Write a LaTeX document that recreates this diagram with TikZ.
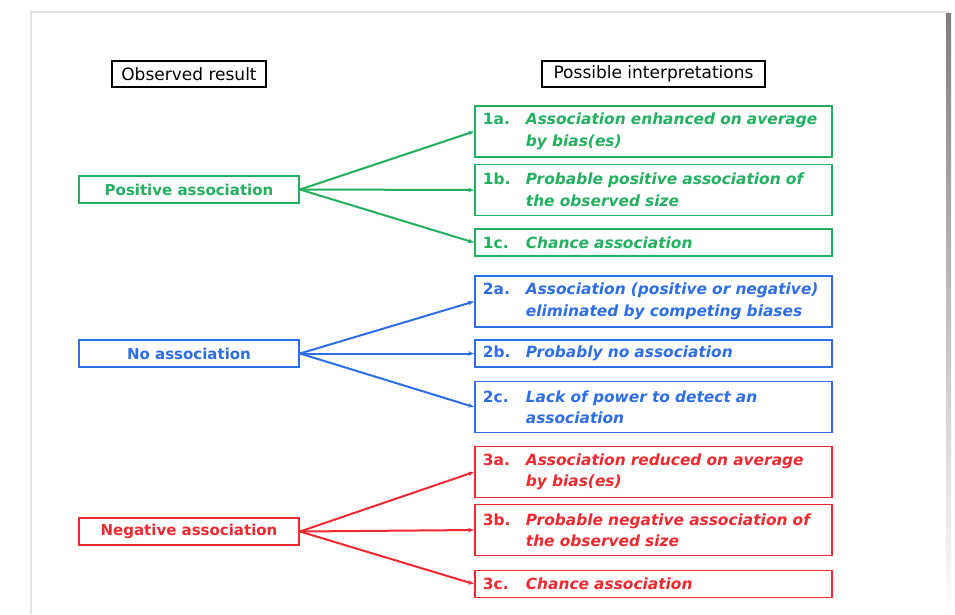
\documentclass[tikz,border=0pt]{standalone}
\usepackage{fontspec}
\setmainfont{DejaVu Sans}
\usepackage{xcolor}
\usetikzlibrary{arrows.meta}
\definecolor{assocgreen}{HTML}{22B060}
\definecolor{assocblue}{HTML}{2D6EE6}
\definecolor{assocred}{HTML}{EE2A30}
\definecolor{frame}{HTML}{E4E4E4}
\definecolor{shade}{HTML}{B4B4B4}
\newcommand{\twoline}[3]{\makebox[43pt][l]{#1}{\itshape #2}\\\hspace*{43pt}{\itshape #3}}
\newcommand{\oneline}[2]{\makebox[43pt][l]{#1}{\itshape #2}}
\tikzset{
  head/.style={draw=black,line width=1.6pt,inner sep=3pt,minimum height=26pt,font=\fontsize{17}{20}\selectfont,text=black},
  result/.style={draw=#1,line width=1.8pt,text=#1,minimum width=220pt,minimum height=27pt,inner sep=3pt,font=\fontsize{15}{18}\selectfont\bfseries},
  interp/.style={draw=#1,line width=1.8pt,text=#1,anchor=west,text width=341pt,inner xsep=8pt,inner ysep=3pt,align=left,minimum height=27pt,font=\fontsize{15.4}{21.5}\selectfont\bfseries},
  tall/.style={minimum height=51pt},
  arrow/.style={-{Stealth[length=6pt,width=4.5pt]},line width=2pt,color=#1},
}
\begin{document}
\begin{tikzpicture}[x=1pt,y=-1pt]
  \useasboundingbox (0,0) rectangle (955,614);
  % page
  \fill[frame] (30,11) rectangle (949,614);
  \fill[shade] (946,13) rectangle (951,614);
  \fill[white] (32,13) rectangle (946,614);
  % headings
  \node[head,minimum width=154pt] (obs) at (189,74) {Observed result};
  \node[head,minimum width=223pt] (poss) at (653.5,74) {Possible interpretations};
  % observed results
  \node[result=assocgreen] (pos) at (189,189.5) {Positive association};
  \node[result=assocblue] (none) at (189,353.5) {No association};
  \node[result=assocred] (neg) at (189,531.5) {Negative association};
  % interpretations
  \node[interp=assocgreen,tall] (i1a) at (474,131.5) {\twoline{1a.}{Association enhanced on average}{by bias(es)}};
  \node[interp=assocgreen,tall] (i1b) at (474,190) {\twoline{1b.}{Probable positive association of}{the observed size}};
  \node[interp=assocgreen] (i1c) at (474,242.5) {\oneline{1c.}{Chance association}};
  \node[interp=assocblue,tall] (i2a) at (474,301.5) {\twoline{2a.}{Association (positive or negative)}{eliminated by competing biases}};
  \node[interp=assocblue] (i2b) at (474,353.5) {\oneline{2b.}{Probably no association}};
  \node[interp=assocblue,tall] (i2c) at (474,407) {\twoline{2c.}{Lack of power to detect an}{association}};
  \node[interp=assocred,tall] (i3a) at (474,472) {\twoline{3a.}{Association reduced on average}{by bias(es)}};
  \node[interp=assocred,tall] (i3b) at (474,530) {\twoline{3b.}{Probable negative association of}{the observed size}};
  \node[interp=assocred] (i3c) at (474,584) {\oneline{3c.}{Chance association}};
  % connectors
  \foreach \t in {i1a,i1b,i1c} \draw[arrow=assocgreen] (pos.east) -- (\t.west);
  \foreach \t in {i2a,i2b,i2c} \draw[arrow=assocblue] (none.east) -- (\t.west);
  \foreach \t in {i3a,i3b,i3c} \draw[arrow=assocred] (neg.east) -- (\t.west);
\end{tikzpicture}
\end{document}
